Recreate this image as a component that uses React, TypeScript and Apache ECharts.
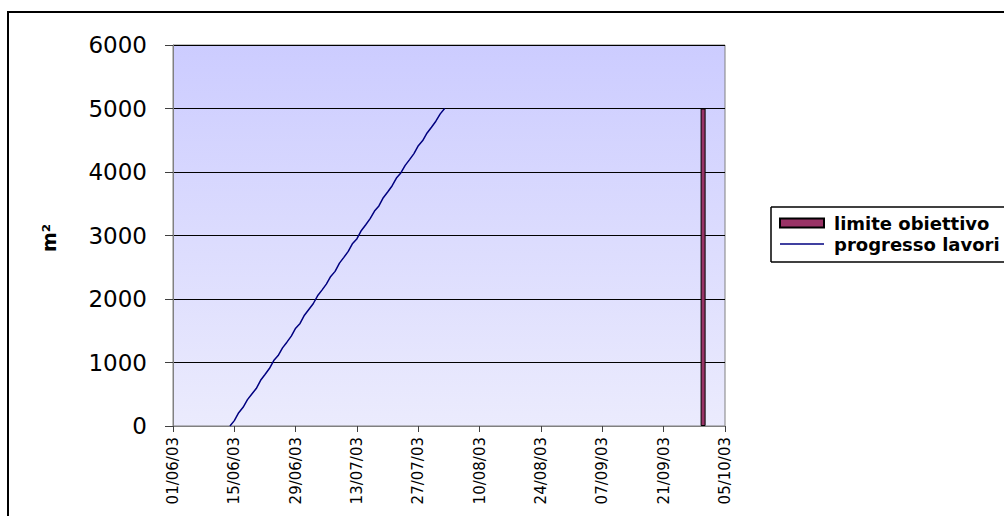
import React, { useEffect, useRef } from "react";
import * as echarts from "echarts";

const START_DATE = "01/06/03";
const END_DATE = "05/10/03";
const TICK_DAYS = 14;

const progressDates = [
  "14/06/03","15/06/03","16/06/03","17/06/03","18/06/03","19/06/03","20/06/03","21/06/03","22/06/03","23/06/03",
  "24/06/03","25/06/03","26/06/03","27/06/03","28/06/03","29/06/03","30/06/03","01/07/03","02/07/03","03/07/03",
  "04/07/03","05/07/03","06/07/03","07/07/03","08/07/03","09/07/03","10/07/03","11/07/03","12/07/03","13/07/03",
  "14/07/03","15/07/03","16/07/03","17/07/03","18/07/03","19/07/03","20/07/03","21/07/03","22/07/03","23/07/03",
  "24/07/03","25/07/03","26/07/03","27/07/03","28/07/03","29/07/03","30/07/03","31/07/03","01/08/03","02/08/03",
];
const progressValues = [
  0, 85, 210, 295, 415, 505, 590, 720, 810, 905,
  1030, 1110, 1230, 1320, 1415, 1540, 1615, 1745, 1835, 1925,
  2050, 2140, 2235, 2355, 2435, 2565, 2655, 2750, 2875, 2950,
  3080, 3170, 3265, 3385, 3465, 3595, 3685, 3780, 3905, 3985,
  4105, 4195, 4290, 4415, 4495, 4615, 4705, 4800, 4915, 5000,
];

const targetDates = ["30/09/03"];
const targetValues = [5000];

const seriesNames = ["limite obiettivo", "progresso lavori"];
const yTicks = { min: 0, max: 6000, interval: 1000 };
const yAxisTitle = "m²";

function parseDate(s: string): number {
  const [d, m, y] = s.split("/").map((v) => parseInt(v, 10));
  return Date.UTC(2000 + y, m - 1, d);
}
const DAY = 86400000;
const t0 = parseDate(START_DATE);
const dayOf = (s: string) => Math.round((parseDate(s) - t0) / DAY);
const fmtDay = (n: number) => {
  const dt = new Date(t0 + n * DAY);
  const dd = String(dt.getUTCDate()).padStart(2, "0");
  const mm = String(dt.getUTCMonth() + 1).padStart(2, "0");
  const yy = String(dt.getUTCFullYear() % 100).padStart(2, "0");
  return `${dd}/${mm}/${yy}`;
};

export default function App() {
  const ref = useRef<HTMLDivElement>(null);
  useEffect(() => {
    if (!ref.current) return;
    const chart = echarts.init(ref.current, null, { renderer: "svg" });
    const font = "'DejaVu Sans', 'Liberation Sans', Arial, sans-serif";
    chart.setOption({
      animation: false,
      backgroundColor: "#ffffff",
      grid: {
        left: 173,
        top: 45,
        right: 279,
        bottom: 90,
        show: true,
        borderColor: "#808080",
        borderWidth: 1,
        backgroundColor: new echarts.graphic.LinearGradient(0, 0, 0, 1, [
          { offset: 0, color: "#CCCCFF" },
          { offset: 1, color: "#EBEBFD" },
        ]),
      },
      xAxis: {
        type: "value",
        min: 0,
        max: dayOf(END_DATE),
        interval: TICK_DAYS,
        splitLine: { show: false },
        axisLine: { show: true, lineStyle: { color: "#808080", width: 1 } },
        axisTick: { show: true, length: 6, lineStyle: { color: "#404040" } },
        axisLabel: {
          rotate: 90,
          margin: 11,
          fontFamily: font,
          fontSize: 15,
          color: "#000",
          formatter: (v: number) => fmtDay(v),
        },
      },
      yAxis: {
        type: "value",
        min: yTicks.min,
        max: yTicks.max,
        interval: yTicks.interval,
        splitLine: { show: true, lineStyle: { color: "#000", width: 1 } },
        axisLine: { show: true, lineStyle: { color: "#808080", width: 1 } },
        axisTick: { show: true, length: 8, lineStyle: { color: "#404040" } },
        axisLabel: {
          margin: 26,
          fontFamily: font,
          fontSize: 23,
          color: "#000",
          formatter: (v: number) => String(v),
        },
      },
      legend: {
        orient: "vertical",
        left: 771,
        top: 207,
        padding: [7, 0, 9, 8],
        itemGap: 3,
        itemWidth: 44,
        itemHeight: 9,
        borderWidth: 0,
        textStyle: {
          fontFamily: font,
          fontSize: 18,
          fontWeight: "bold",
          color: "#000",
          padding: [0, 0, 0, 5],
        },
        data: [
          { name: seriesNames[0], icon: "rect" },
          {
            name: seriesNames[1],
            icon: "path://M0,0 H44 V1.5 H0 Z",
            itemStyle: { color: "#000080" },
          },
        ],
      },
      graphic: [
        {
          type: "rect",
          shape: { x: 8, y: 12, width: 1200, height: 700 },
          style: { fill: "none", stroke: "#000", lineWidth: 2 },
          z: 100,
          silent: true,
        },
        {
          type: "line",
          shape: { x1: 771, y1: 207, x2: 1004, y2: 207 },
          style: { stroke: "#000", lineWidth: 1.5 },
          z: 100,
          silent: true,
        },
        {
          type: "line",
          shape: { x1: 771, y1: 262, x2: 1004, y2: 262 },
          style: { stroke: "#000", lineWidth: 1.5 },
          z: 100,
          silent: true,
        },
        {
          type: "line",
          shape: { x1: 771, y1: 207, x2: 771, y2: 262 },
          style: { stroke: "#000", lineWidth: 1.5 },
          z: 100,
          silent: true,
        },
        {
          type: "text",
          x: 49,
          y: 238,
          rotation: Math.PI / 2,
          style: {
            text: yAxisTitle,
            font: `bold 19px ${font}`,
            fill: "#000",
            align: "center",
            verticalAlign: "middle",
          },
        },
      ],
      series: [
        {
          name: seriesNames[0],
          type: "bar",
          barWidth: 5,
          itemStyle: { color: "#993366", borderColor: "#000", borderWidth: 1 },
          data: targetDates.map((d, i) => [dayOf(d), targetValues[i]]),
        },
        {
          name: seriesNames[1],
          type: "line",
          symbol: "none",
          lineStyle: { color: "#000080", width: 1.5 },
          itemStyle: { color: "#000080" },
          data: progressDates.map((d, i) => [dayOf(d), progressValues[i]]),
        },
      ],
    });
    return () => chart.dispose();
  }, []);
  return (
    <div
      ref={ref}
      style={{ position: "fixed", left: 0, top: 0, width: 1004, height: 516, background: "#fff" }}
    />
  );
}
